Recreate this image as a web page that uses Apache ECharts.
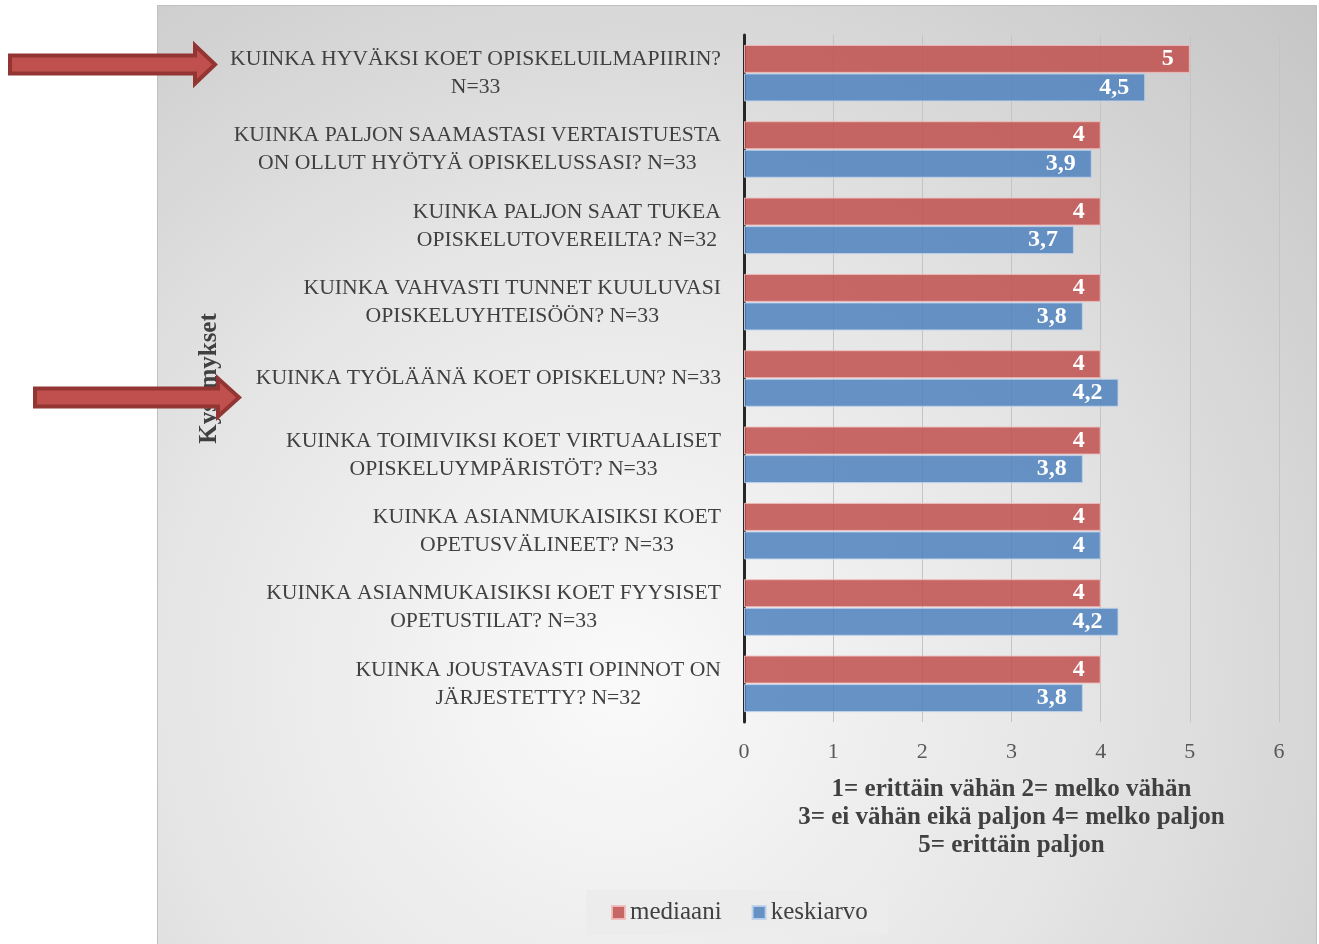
<!DOCTYPE html>
<html>
<head>
<meta charset="utf-8">
<script src="https://cdn.jsdelivr.net/npm/echarts@6/dist/echarts.min.js"></script>
<style>
  html, body { margin:0; padding:0; background:#fff; }
  #chart { width:1319px; height:944px; }
</style>
</head>
<body>
<div id="chart"></div>
<script>
// ====== data ======
const questions = [
  'KUINKA HYVÄKSI KOET OPISKELUILMAPIIRIN?\nN=33',
  'KUINKA PALJON SAAMASTASI VERTAISTUESTA\nON OLLUT HYÖTYÄ OPISKELUSSASI? N=33',
  'KUINKA PALJON SAAT TUKEA\nOPISKELUTOVEREILTA? N=32',
  'KUINKA VAHVASTI TUNNET KUULUVASI\nOPISKELUYHTEISÖÖN? N=33',
  'KUINKA TYÖLÄÄNÄ KOET OPISKELUN? N=33',
  'KUINKA TOIMIVIKSI KOET VIRTUAALISET\nOPISKELUYMPÄRISTÖT? N=33',
  'KUINKA ASIANMUKAISIKSI KOET\nOPETUSVÄLINEET? N=33',
  'KUINKA ASIANMUKAISIKSI KOET FYYSISET\nOPETUSTILAT? N=33',
  'KUINKA JOUSTAVASTI OPINNOT ON\nJÄRJESTETTY? N=32'
];
const mediaani  = [5, 4, 4, 4, 4, 4, 4, 4, 4];
const keskiarvo = [4.5, 3.9, 3.7, 3.8, 4.2, 3.8, 4, 4.2, 3.8];
const scaleNote = '1= erittäin vähän 2= melko vähän\n3= ei vähän eikä paljon 4= melko paljon\n5= erittäin paljon';

const FONT = '"Liberation Serif", "DejaVu Serif", serif';
const fmt = (p) => String(p.value).replace('.', ',');

// arrow shape (annotation, not data)
function arrow(x0, x1, xt, yc, sh, hh){
  return {
    type:'polygon', z:100,
    shape:{ points:[
      [x0, yc - sh/2], [x1, yc - sh/2], [x1, yc - hh/2], [xt, yc],
      [x1, yc + hh/2], [x1, yc + sh/2], [x0, yc + sh/2]
    ]},
    style:{ fill:'#c0504d', stroke:'#933532', lineWidth:4 }
  };
}

const chart = echarts.init(document.getElementById('chart'));
chart.setOption({
  animation:false,
  textStyle:{ fontFamily: FONT },
  graphic:[
    {
      type:'rect', z:-100, silent:true,
      shape:{ x:157.5, y:5.5, width:1159, height:940 },
      style:{
        fill:{
          type:'radial', x:0.4, y:0.72, r:1.05,
          colorStops:[
            { offset:0, color:'#fafafa' },
            { offset:0.45, color:'#e6e6e6' },
            { offset:1, color:'#c4c4c4' }
          ]
        },
        stroke:'#c0c0c0', lineWidth:1
      }
    },
    arrow(10, 195, 215, 64.5, 18, 38),
    arrow(35, 218, 239, 397.5, 18, 38)
  ],
  grid:{ left:744, right:40, top:35, bottom:222, containLabel:false },
  legend:{
    left:586, top:890,
    data:['mediaani','keskiarvo'],
    icon:'rect', itemWidth:13, itemHeight:13, itemGap:30,
    backgroundColor:'#ececec', padding:[10, 20, 10, 25],
    textStyle:{ fontFamily:FONT, fontSize:25, color:'#404040' }
  },
  xAxis:{
    type:'value', min:0, max:6, interval:1,
    axisLine:{ show:false }, axisTick:{ show:false },
    splitLine:{ show:true, lineStyle:{ color:'#c4c4c4', width:1 } },
    axisLabel:{ fontFamily:FONT, fontSize:22, color:'#595959', margin:19 },
    name: scaleNote, nameLocation:'middle', nameGap:54,
    nameTextStyle:{ fontFamily:FONT, fontSize:25, fontWeight:'bold', color:'#404040', lineHeight:28, align:'center' }
  },
  yAxis:{
    type:'category', inverse:true, data:questions,
    axisLine:{ show:true, lineStyle:{ color:'#262626', width:3 } },
    axisTick:{ show:false },
    axisLabel:{
      fontFamily:FONT, fontSize:21.7, color:'#404040', lineHeight:28, margin:23, align:'right',
      formatter:(v) => v.split('\n').map(s => '{c|' + s + '}').join('\n'),
      rich:{ c:{ align:'center', fontFamily:FONT, fontSize:21.7, color:'#404040', lineHeight:28 } }
    },
    name:'Kysymykset', nameLocation:'middle', nameGap:522,
    nameTextStyle:{ fontFamily:FONT, fontSize:25, fontWeight:'bold', color:'#404040' }
  },
  series:[
    {
      name:'mediaani', type:'bar', data:mediaani, barWidth:28, barGap:'2%',
      itemStyle:{ color:'rgba(192,80,77,0.85)', borderColor:'rgba(240,190,188,0.9)', borderWidth:1 },
      label:{ show:true, position:'insideRight', distance:16, formatter:fmt,
              fontFamily:FONT, fontSize:24, fontWeight:'bold', color:'#fff' }
    },
    {
      name:'keskiarvo', type:'bar', data:keskiarvo, barWidth:28,
      itemStyle:{ color:'rgba(79,129,189,0.85)', borderColor:'rgba(190,210,235,0.9)', borderWidth:1 },
      label:{ show:true, position:'insideRight', distance:16, formatter:fmt,
              fontFamily:FONT, fontSize:24, fontWeight:'bold', color:'#fff' }
    }
  ]
});
</script>
</body>
</html>
